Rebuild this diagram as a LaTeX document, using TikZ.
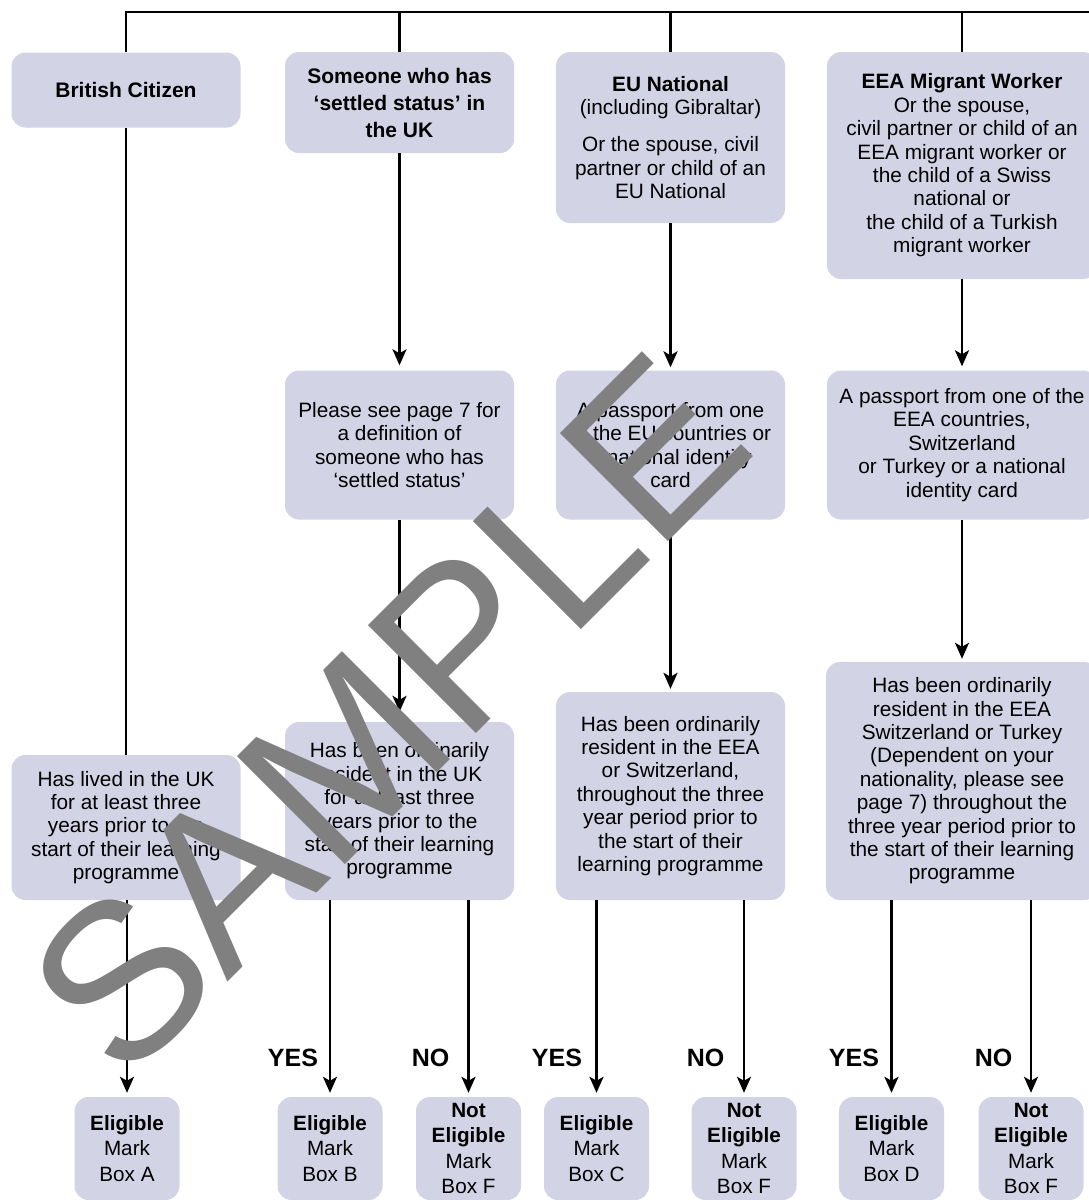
\documentclass[tikz,border=0pt]{standalone}
\usepackage{fontspec}
\setmainfont{Liberation Sans}
\usetikzlibrary{arrows.meta}
\definecolor{boxfill}{RGB}{211,211,230}
\definecolor{wmgray}{RGB}{128,128,128}
\begin{document}
\begin{tikzpicture}[x=1pt,y=-1pt,
  box/.style={fill=boxfill, rounded corners=14pt, align=center, inner sep=0pt,
    font=\fontsize{20.8}{23.4}\selectfont},
  bbox/.style={box, font=\fontsize{21}{27}\selectfont\bfseries},
  endbox/.style={box, minimum width=105pt, minimum height=103pt,
    font=\fontsize{20.7}{25.5}\selectfont},
  conn/.style={line width=2.6pt, draw=black},
  arr/.style={conn, -{Stealth[length=16pt,width=14pt,inset=4pt]}, shorten >=4pt},
  lbl/.style={font=\fontsize{25}{25}\selectfont\bfseries, inner sep=0pt}]
\useasboundingbox (0,0) rectangle (1089,1200);

% top row
\node[bbox, minimum width=229pt, minimum height=75pt] (bc) at (126,90) {British Citizen};
\node[bbox, minimum width=229pt, minimum height=101pt] (settled) at (399.5,102.5)
  {Someone who has\\‘settled status’ in\\the UK};
\node[box, minimum width=229pt, minimum height=171pt] (eu) at (670.5,137.5)
  {\textbf{EU National}\\(including Gibraltar)\\[14pt]Or the spouse, civil\\partner or child of an\\EU National};
\node[box, minimum width=270pt, minimum height=227pt] (eea) at (962,165.5)
  {\textbf{EEA Migrant Worker}\\Or the spouse,\\civil partner or child of an\\EEA migrant worker or\\the child of a Swiss\\national or\\the child of a Turkish\\migrant worker};

% second row
\node[box, minimum width=229pt, minimum height=149pt] (please) at (399.5,445)
  {Please see page 7 for\\a definition of\\someone who has\\‘settled status’};
\node[box, minimum width=229pt, minimum height=149pt] (pass1) at (670.5,445)
  {A passport from one\\of the EU countries or\\a national identity\\card};
\node[box, minimum width=270pt, minimum height=149pt] (pass2) at (962,445)
  {A passport from one of the\\EEA countries,\\Switzerland\\or Turkey or a national\\identity card};

% third row
\node[box, minimum width=229pt, minimum height=145pt] (lived) at (126,827.5)
  {Has lived in the UK\\for at least three\\years prior to the\\start of their learning\\programme};
\node[box, minimum width=229pt, minimum height=178pt] (ukres) at (399.5,811)
  {Has been ordinarily\\resident in the UK\\for at least three\\years prior to the\\start of their learning\\programme};
\node[box, minimum width=229pt, minimum height=208pt] (eures) at (670.5,796)
  {Has been ordinarily\\resident in the EEA\\or Switzerland,\\throughout the three\\year period prior to\\the start of their\\learning programme};
\node[box, minimum width=272pt, minimum height=238pt] (eeares) at (962,781)
  {Has been ordinarily\\resident in the EEA\\Switzerland or Turkey\\(Dependent on your\\nationality, please see\\page 7) throughout the\\three year period prior to\\the start of their learning\\programme};

% bottom row
\node[endbox] (A) at (127,1148.5) {\textbf{Eligible}\\Mark\\Box A};
\node[endbox] (B) at (330,1148.5) {\textbf{Eligible}\\Mark\\Box B};
\node[endbox] (F1) at (468.5,1148.5) {\textbf{Not}\\\textbf{Eligible}\\Mark\\Box F};
\node[endbox] (C) at (596.5,1148.5) {\textbf{Eligible}\\Mark\\Box C};
\node[endbox] (F2) at (744,1148.5) {\textbf{Not}\\\textbf{Eligible}\\Mark\\Box F};
\node[endbox] (D) at (891.5,1148.5) {\textbf{Eligible}\\Mark\\Box D};
\node[endbox] (F3) at (1031,1148.5) {\textbf{Not}\\\textbf{Eligible}\\Mark\\Box F};

% labels
\node[lbl] (y1) at (293,1058) {YES};
\node[lbl] (n1) at (430.5,1058) {NO};
\node[lbl] (y2) at (557,1058) {YES};
\node[lbl] (n2) at (705.5,1058) {NO};
\node[lbl] (y3) at (854,1058) {YES};
\node[lbl] (n3) at (993.5,1058) {NO};

% top bus
\coordinate (topR) at (1089,12);
\draw[conn] (bc.north) |- (topR);
\draw[conn] (settled.north) -- (settled.north |- topR);
\draw[conn] (eu.north) -- (eu.north |- topR);
\draw[conn] (eea.north) -- (eea.north |- topR);

% column links
\draw[conn] (bc.south) -- (bc.south |- lived.north);
\draw[arr, shorten >=5pt] (settled.south) -- (please.north);
\draw[arr, shorten >=3pt] (eu.south) -- (pass1.north);
\draw[arr] (eea.south) -- (pass2.north);
\draw[arr, shorten >=10pt] (please.south) -- (ukres.north);
\draw[arr, shorten >=3pt] (pass1.south) -- (eures.north);
\draw[arr, shorten >=3pt] (pass2.south) -- (eeares.north);

% to outcomes
\draw[arr] (A.north |- lived.south) -- (A.north);
\draw[arr] (B.north |- ukres.south) -- (B.north);
\draw[arr] (F1.north |- ukres.south) -- (F1.north);
\draw[arr] (C.north |- eures.south) -- (C.north);
\draw[arr] (F2.north |- eures.south) -- (F2.north);
\draw[arr] (D.north |- eeares.south) -- (D.north);
\draw[arr] (F3.north |- eeares.south) -- (F3.north);

% watermark
\node[font=\fontsize{222}{222}\selectfont, text=wmgray, rotate=45, anchor=base west,
  inner sep=0pt] (wm) at (123,1087) {SAMPLE};
\end{tikzpicture}
\end{document}
